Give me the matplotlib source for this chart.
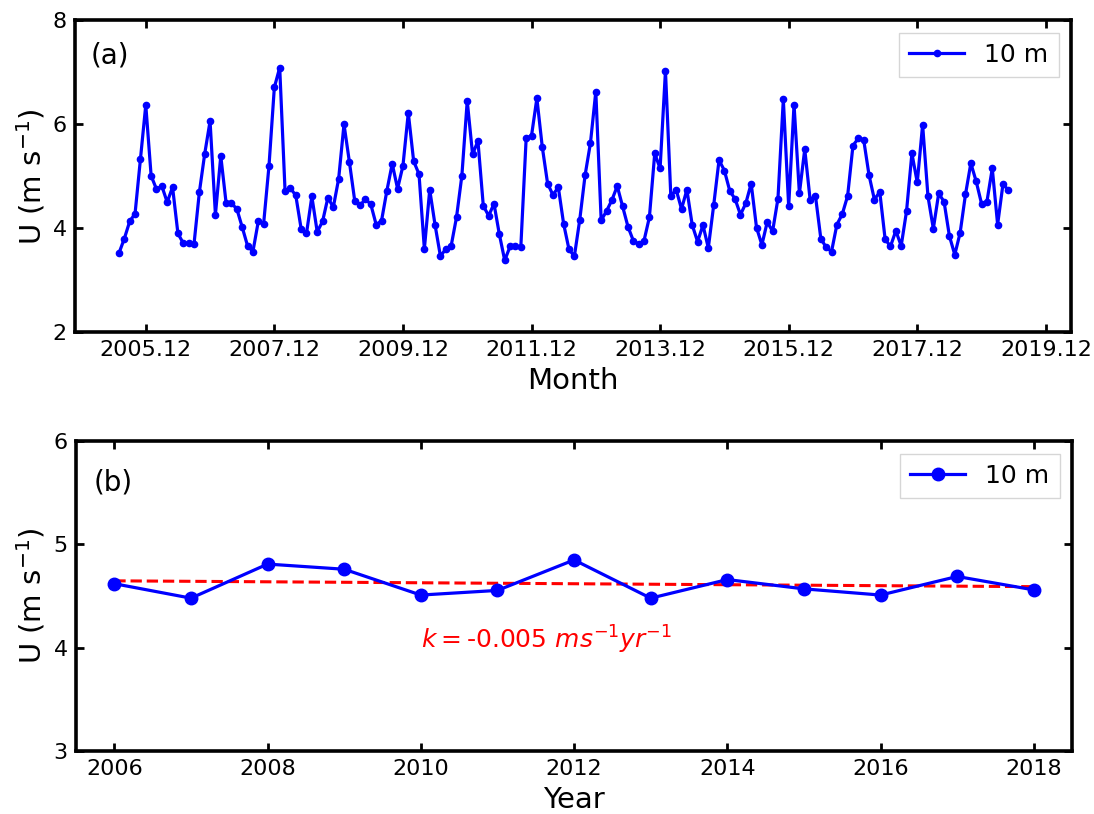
import numpy as np
import matplotlib
matplotlib.use("Agg")
import matplotlib.pyplot as plt

# monthly mean wind speed at 10 m (m/s), first value is 2005.07
u_month = [
    3.52, 3.80, 4.13, 4.28, 5.33, 6.37, 5.01, 4.75, 4.81, 4.50,
    4.79, 3.90, 3.71, 3.71, 3.69, 4.69, 5.43, 6.06, 4.26, 5.39,
    4.48, 4.48, 4.37, 4.02, 3.66, 3.55, 4.13, 4.09, 5.20, 6.71,
    7.09, 4.71, 4.77, 4.63, 3.99, 3.90, 4.61, 3.93, 4.13, 4.59,
    4.40, 4.95, 6.00, 5.28, 4.53, 4.44, 4.56, 4.46, 4.07, 4.14,
    4.72, 5.24, 4.76, 5.20, 6.22, 5.29, 5.04, 3.60, 4.74, 4.06,
    3.46, 3.60, 3.66, 4.21, 5.01, 6.45, 5.42, 5.68, 4.43, 4.24,
    4.47, 3.88, 3.38, 3.65, 3.66, 3.63, 5.73, 5.78, 6.50, 5.57,
    4.86, 4.64, 4.79, 4.08, 3.59, 3.46, 4.16, 5.02, 5.64, 6.63,
    4.15, 4.33, 4.54, 4.81, 4.42, 4.03, 3.76, 3.69, 3.76, 4.21,
    5.44, 5.15, 7.03, 4.62, 4.74, 4.37, 4.74, 4.06, 3.74, 4.06,
    3.62, 4.44, 5.31, 5.11, 4.72, 4.56, 4.26, 4.48, 4.86, 4.01,
    3.68, 4.12, 3.94, 4.57, 6.48, 4.42, 6.38, 4.67, 5.52, 4.55,
    4.62, 3.80, 3.63, 3.55, 4.07, 4.27, 4.62, 5.59, 5.73, 5.70,
    5.02, 4.55, 4.70, 3.79, 3.65, 3.95, 3.66, 4.33, 5.44, 4.88,
    5.99, 4.61, 3.99, 4.67, 4.51, 3.85, 3.49, 3.91, 4.65, 5.25,
    4.90, 4.47, 4.51, 5.15, 4.07, 4.85, 4.73,
]
month_labels = ["2005.12", "2007.12", "2009.12", "2011.12",
                "2013.12", "2015.12", "2017.12", "2019.12"]

# annual means
years = [2006, 2007, 2008, 2009, 2010, 2011, 2012,
         2013, 2014, 2015, 2016, 2017, 2018]
u_year = [4.62, 4.48, 4.81, 4.76, 4.51, 4.555, 4.85,
          4.48, 4.66, 4.57, 4.51, 4.69, 4.56]

plt.rcParams["font.family"] = "DejaVu Sans"
plt.rcParams["mathtext.fontset"] = "dejavusans"

months = np.arange(len(u_month))
tick_pos = np.arange(5, 5 + 24 * len(month_labels), 24)

# linear trend of annual means
k, b = np.polyfit(years, u_year, 1)
trend = np.polyval([k, b], years)

fig = plt.figure(figsize=(10.94, 8.14), dpi=100)
ax1 = fig.add_axes([0.0686, 0.592, 0.9104, 0.383])
ax2 = fig.add_axes([0.0695, 0.0774, 0.9105, 0.3806])


def style(ax):
    for s in ax.spines.values():
        s.set_linewidth(2.6)
    ax.tick_params(direction="in", top=True, right=True, length=6,
                   width=2, labelsize=16, pad=6)


# (a) monthly series
ax1.plot(months, u_month, "-o", color="blue", lw=2.3, ms=4.5, label="10 m")
ax1.set_xlim(-8.2, 177.7)
ax1.set_ylim(2, 8)
ax1.set_yticks([2, 4, 6, 8])
ax1.set_xticks(tick_pos)
ax1.set_xticklabels(month_labels)
ax1.set_xlabel("Month", fontsize=21, labelpad=5)
ax1.set_ylabel("U (m s$^{-1}$)", fontsize=21)
ax1.text(0.016, 0.888, "(a)", transform=ax1.transAxes, fontsize=20, va="center")
ax1.legend(loc="upper right", fontsize=18, fancybox=False, handlelength=2.2)
style(ax1)

# (b) annual means with trend
ax2.plot(years, trend, "--", color="red", lw=2.2)
ax2.plot(years, u_year, "-o", color="blue", lw=2.3, ms=9, label="10 m")
ax2.set_xlim(2005.5, 2018.5)
ax2.set_ylim(3, 6)
ax2.set_yticks([3, 4, 5, 6])
ax2.set_xticks(np.arange(2006, 2019, 2))
ax2.set_xlabel("Year", fontsize=21, labelpad=5)
ax2.set_ylabel("U (m s$^{-1}$)", fontsize=21)
ax2.text(0.018, 0.868, "(b)", transform=ax2.transAxes, fontsize=20, va="center")
ax2.text(2010, 4.08, r"$k=$" + f"{k:.3f}" + r" $ms^{-1}yr^{-1}$",
         color="red", fontsize=18, va="center")
ax2.legend(loc="upper right", fontsize=18, fancybox=False, handlelength=2.2)
style(ax2)

fig.savefig("out.png", dpi=100)
